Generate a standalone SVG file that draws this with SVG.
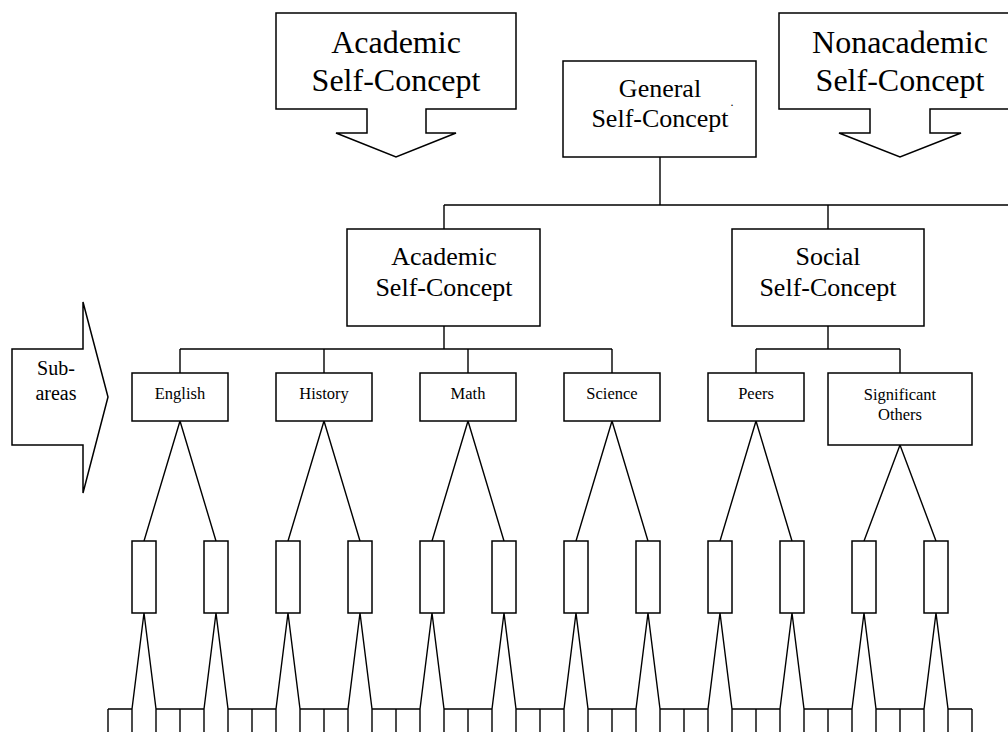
<svg xmlns="http://www.w3.org/2000/svg" width="1008" height="732" viewBox="0 0 1008 732">
<style>
.box{fill:#fff;stroke:#000;stroke-width:1.5}
.ln{fill:none;stroke:#000;stroke-width:1.4}
.t{font-family:'Liberation Serif','Times New Roman',Times,'DejaVu Serif',serif;fill:#000;text-anchor:middle}
.big{font-size:32px}
.mid{font-size:26px}
.sm{font-size:16.5px}
.sa{font-size:20px}
</style>
<rect width="1008" height="732" fill="#fff"/>
<g id="connectors" class="ln">
<path d="M660 157V205M444 205H1008M444 205V229M828 205V229"/>
<path d="M444 326V349M180 349H612M180 349V373M324 349V373M468 349V373M612 349V373"/>
<path d="M828 326V349M756 349H900M756 349V373M900 349V373"/>
<path d="M144 541L180 421L216 541M288 541L324 421L360 541M432 541L468 421L504 541M576 541L612 421L648 541M720 541L756 421L792 541M864 541L900 445L936 541"/>
<path d="M132 709L144 613L156 709M204 709L216 613L228 709M276 709L288 613L300 709M348 709L360 613L372 709M420 709L432 613L444 709M492 709L504 613L516 709M564 709L576 613L588 709M636 709L648 613L660 709M708 709L720 613L732 709M780 709L792 613L804 709M852 709L864 613L876 709M924 709L936 613L948 709"/>
<path d="M108 709H132M156 709H204M228 709H276M300 709H348M372 709H420M444 709H492M516 709H564M588 709H636M660 709H708M732 709H780M804 709H852M876 709H924M948 709H972"/>
<path d="M108 709V740M132 709V740M156 709V740M180 709V740M204 709V740M228 709V740M252 709V740M276 709V740M300 709V740M324 709V740M348 709V740M372 709V740M396 709V740M420 709V740M444 709V740M468 709V740M492 709V740M516 709V740M540 709V740M564 709V740M588 709V740M612 709V740M636 709V740M660 709V740M684 709V740M708 709V740M732 709V740M756 709V740M780 709V740M804 709V740M828 709V740M852 709V740M876 709V740M900 709V740M924 709V740M948 709V740M972 709V740"/>
</g>
<g id="academic-arrow">
<polygon class="box" points="276,13 516,13 516,109 426,109 426,133 456,133 396,157 336,133 367,133 367,109 276,109"/>
<text class="t big" font-family="Liberation Serif" x="396" y="53">Academic</text>
<text class="t big" font-family="Liberation Serif" x="396" y="91">Self-Concept</text>
</g>
<g id="nonacademic-arrow">
<polygon class="box" points="779,13 1021,13 1021,109 930,109 930,133 961,133 900,157 839,133 870,133 870,109 779,109"/>
<text class="t big" font-family="Liberation Serif" x="900" y="53">Nonacademic</text>
<text class="t big" font-family="Liberation Serif" x="900" y="91">Self-Concept</text>
</g>
<g id="general">
<rect class="box" x="563" y="61" width="193" height="96"/>
<text class="t mid" font-family="Liberation Serif" x="660" y="97">General</text>
<text class="t mid" font-family="Liberation Serif" x="660" y="127">Self-Concept</text>
<text class="t" font-family="Liberation Serif" style="font-size:12px" x="732" y="106">.</text>
</g>
<g id="academic">
<rect class="box" x="347" y="229" width="193" height="97"/>
<text class="t mid" font-family="Liberation Serif" x="444" y="265">Academic</text>
<text class="t mid" font-family="Liberation Serif" x="444" y="296">Self-Concept</text>
</g>
<g id="social">
<rect class="box" x="732" y="229" width="192" height="97"/>
<text class="t mid" font-family="Liberation Serif" x="828" y="265">Social</text>
<text class="t mid" font-family="Liberation Serif" x="828" y="296">Self-Concept</text>
</g>
<g id="subareas">
<polygon class="box" points="12,349 83,349 83,302 108,397 83,493 83,445 12,445"/>
<text class="t sa" font-family="Liberation Serif" x="56" y="375">Sub-</text>
<text class="t sa" font-family="Liberation Serif" x="56" y="400">areas</text>
</g>
<g id="english"><rect class="box" x="132" y="373" width="96" height="48"/><text class="t sm" font-family="Liberation Serif" x="180" y="399">English</text></g>
<g id="history"><rect class="box" x="276" y="373" width="96" height="48"/><text class="t sm" font-family="Liberation Serif" x="324" y="399">History</text></g>
<g id="math"><rect class="box" x="420" y="373" width="96" height="48"/><text class="t sm" font-family="Liberation Serif" x="468" y="399">Math</text></g>
<g id="science"><rect class="box" x="564" y="373" width="96" height="48"/><text class="t sm" font-family="Liberation Serif" x="612" y="399">Science</text></g>
<g id="peers"><rect class="box" x="708" y="373" width="96" height="48"/><text class="t sm" font-family="Liberation Serif" x="756" y="399">Peers</text></g>
<g id="significant-others"><rect class="box" x="828" y="373" width="144" height="72"/><text class="t sm" font-family="Liberation Serif" x="900" y="400">Significant</text><text class="t sm" font-family="Liberation Serif" x="900" y="420">Others</text></g>
<g id="facets" class="box">
<rect x="132" y="541" width="24" height="72"/><rect x="204" y="541" width="24" height="72"/>
<rect x="276" y="541" width="24" height="72"/><rect x="348" y="541" width="24" height="72"/>
<rect x="420" y="541" width="24" height="72"/><rect x="492" y="541" width="24" height="72"/>
<rect x="564" y="541" width="24" height="72"/><rect x="636" y="541" width="24" height="72"/>
<rect x="708" y="541" width="24" height="72"/><rect x="780" y="541" width="24" height="72"/>
<rect x="852" y="541" width="24" height="72"/><rect x="924" y="541" width="24" height="72"/>
</g>
</svg>
